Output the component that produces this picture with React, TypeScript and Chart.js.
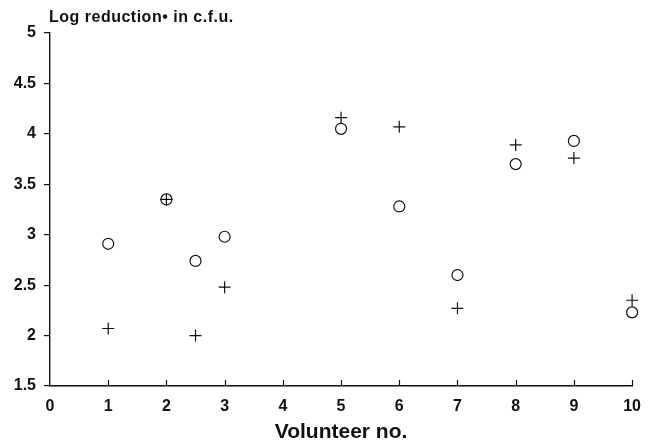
import React, { useEffect, useRef } from "react";
import { Chart, registerables } from "chart.js";

Chart.register(...registerables);

const volunteerX = [1, 2, 2.5, 3, 5, 6, 7, 8, 9, 10];
const circleValues = [2.91, 3.35, 2.74, 2.98, 4.05, 3.28, 2.6, 3.7, 3.93, 2.23];
const plusValues = [2.07, 3.35, 2.0, 2.48, 4.16, 4.07, 2.27, 3.89, 3.76, 2.35];
const yTickValues = [1.5, 2, 2.5, 3, 3.5, 4, 4.5, 5];
const xTickValues = [0, 1, 2, 3, 4, 5, 6, 7, 8, 9, 10];
const titleText = "Log reduction\u2022 in c.f.u.";
const xTitleText = "Volunteer no.";

const INK = "#111111";
const FONT = "'Liberation Sans', Arial, Helvetica, sans-serif";

export default function App() {
  const ref = useRef<HTMLCanvasElement | null>(null);

  useEffect(() => {
    if (!ref.current) return;
    Chart.defaults.font.family = FONT;
    Chart.defaults.color = INK;

    const innerTicks = {
      id: "innerTicks",
      afterDraw(chart: any) {
        const ctx = chart.ctx;
        const xs = chart.scales.x;
        const area = chart.chartArea;
        ctx.save();
        ctx.strokeStyle = INK;
        ctx.lineWidth = 1.2;
        xs.ticks.forEach((t: any) => {
          if (t.value === 0) return;
          const px = Math.round(xs.getPixelForValue(t.value)) + 0.5;
          ctx.beginPath();
          ctx.moveTo(px, area.bottom);
          ctx.lineTo(px, area.bottom - 6);
          ctx.stroke();
        });
        ctx.fillStyle = INK;
        ctx.font = `bold 16px ${FONT}`;
        (ctx as any).letterSpacing = "0.5px";
        ctx.textAlign = "left";
        ctx.textBaseline = "middle";
        ctx.fillText(titleText, area.left - 1, area.top - 15);
        ctx.restore();
      },
    };

    const chart = new Chart(ref.current, {
      type: "scatter",
      data: {
        datasets: [
          {
            label: "circle",
            data: volunteerX.map((x, i) => ({ x, y: circleValues[i] })),
            pointStyle: "circle",
            pointRadius: 5.5,
            pointBorderWidth: 1.2,
            pointBorderColor: INK,
            pointBackgroundColor: "rgba(0,0,0,0)",
            showLine: false,
            clip: false,
          },
          {
            label: "plus",
            data: volunteerX.map((x, i) => ({ x, y: plusValues[i] })),
            pointStyle: "cross",
            pointRadius: 6,
            pointBorderWidth: 1.2,
            pointBorderColor: INK,
            pointBackgroundColor: INK,
            showLine: false,
            clip: false,
          },
        ],
      },
      options: {
        responsive: false,
        animation: false,
        layout: { padding: { top: 33, right: 18, left: 0, bottom: 0 } },
        plugins: {
          legend: { display: false },
          tooltip: { enabled: false },
          title: { display: false },
        },
        scales: {
          x: {
            type: "linear",
            min: 0,
            max: 10,
            afterFit: (s: any) => {
              s.height = 57;
            },
            afterBuildTicks: (s: any) => {
              s.ticks = xTickValues.map((v) => ({ value: v }));
            },
            grid: { display: false, drawTicks: false },
            border: { display: true, color: INK, width: 1.4 },
            ticks: {
              padding: 11,
              color: INK,
              font: { size: 16, weight: "bold" },
              callback: (v: any) => String(v),
            },
            title: {
              display: true,
              text: xTitleText,
              color: INK,
              font: { size: 21, weight: "bold", lineHeight: 1 },
              padding: { top: 0, bottom: 0 },
            },
          },
          y: {
            type: "linear",
            min: 1.5,
            max: 5,
            afterFit: (s: any) => {
              s.width = 50;
            },
            afterBuildTicks: (s: any) => {
              s.ticks = yTickValues.map((v) => ({ value: v }));
            },
            grid: {
              display: true,
              drawOnChartArea: false,
              drawTicks: true,
              tickLength: 6,
              color: INK,
              lineWidth: 1.2,
            },
            border: { display: true, color: INK, width: 1.4 },
            ticks: {
              padding: 8,
              color: INK,
              font: { size: 16, weight: "bold" },
              callback: (v: any) => String(v),
            },
          },
        },
      },
      plugins: [innerTicks],
    } as any);

    return () => chart.destroy();
  }, []);

  return (
    <div style={{ position: "absolute", left: 0, top: 0, width: 652, height: 443, background: "#fff" }}>
      <canvas ref={ref} width={652} height={443} style={{ display: "block" }} />
    </div>
  );
}
